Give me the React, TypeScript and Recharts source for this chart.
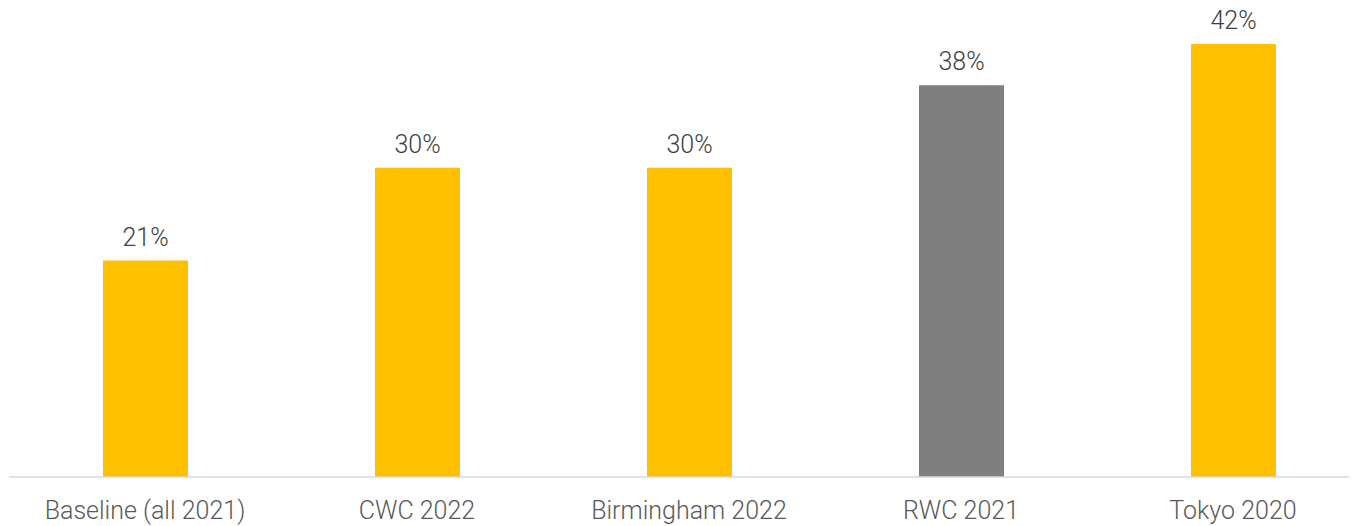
import React from "react";
import { BarChart, Bar, XAxis, YAxis, Cell, LabelList } from "recharts";

const categories = ["Baseline (all 2021)", "CWC 2022", "Birmingham 2022", "RWC 2021", "Tokyo 2020"];
const values = [21, 30, 30, 38, 42];
const barColors = ["#FFC000", "#FFC000", "#FFC000", "#7F7F7F", "#FFC000"];

const data = categories.map((name, i) => ({ name, value: values[i] }));

export default function App() {
  return (
    <div style={{ marginTop: -8, marginLeft: -8, width: 1357, height: 526, overflow: "hidden", fontFamily: "Roboto" }}>
      <BarChart
        width={1369}
        height={526}
        data={data}
        margin={{ top: 44, right: 0, bottom: 19, left: 9 }}
        barSize={85}
      >
        <XAxis
          dataKey="name"
          axisLine={{ stroke: "#D9D9D9", strokeWidth: 1.5 }}
          tickLine={false}
          tickMargin={18}
          height={30}
          interval={0}
          tick={{ fill: "#595959", fontSize: 25, fontFamily: "Roboto", fontWeight: 300 }}
        />
        <YAxis hide domain={[0, 42]} />
        <Bar dataKey="value" isAnimationActive={false}>
          {data.map((d, i) => (
            <Cell key={d.name} fill={barColors[i]} />
          ))}
          <LabelList
            dataKey="value"
            position="top"
            offset={15}
            formatter={(v: number) => `${v}%`}
            style={{ fill: "#404040", fontSize: 25, fontFamily: "Roboto", fontWeight: 300 }}
          />
        </Bar>
      </BarChart>
    </div>
  );
}
